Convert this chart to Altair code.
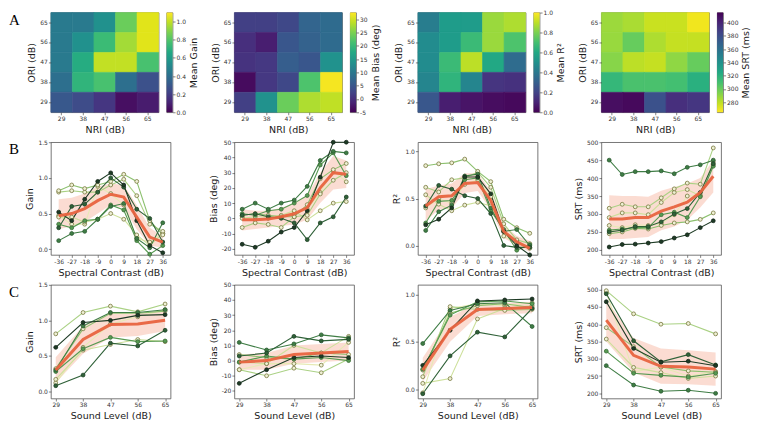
import altair as alt
import pandas as pd

FONT = "DejaVu Sans"
RED = "#e8633f"
BAND = "#f39a7e"

# ---------------- Row A : heatmaps ----------------
levels = [29, 38, 47, 56, 65]
ori_rows = [65, 56, 47, 38, 29]  # top to bottom

gain_grid = [[0.45, 0.45, 0.55, 0.85, 1.05],
             [0.45, 0.55, 0.75, 0.95, 1.05],
             [0.45, 0.68, 1.00, 1.00, 0.78],
             [0.40, 0.72, 0.78, 0.40, 0.27],
             [0.30, 0.25, 0.17, 0.04, 0.08]]
bias_grid = [[2, 2, 3, 7, 8],
             [0, -2, 5, 6.5, 8],
             [0.5, 1, 6, 5, 14],
             [-4, 1, 3, 22, 32],
             [2, 14, 24, 28, 29]]
r2_grid = [[0.42, 0.55, 0.55, 0.85, 0.88],
           [0.48, 0.55, 0.68, 0.85, 0.72],
           [0.48, 0.68, 0.90, 0.60, 0.35],
           [0.45, 0.65, 0.45, 0.15, 0.14],
           [0.27, 0.08, 0.05, 0.03, 0.02]]
srt_grid = [[287, 284, 277, 277, 268],
            [288, 300, 283, 278, 278],
            [292, 280, 278, 290, 300],
            [315, 308, 308, 310, 320],
            [410, 412, 378, 395, 392]]

gain_dom = [0.0, 1.1]
bias_dom = [-5, 32.5]
r2_dom = [0.0, 1.0]
srt_dom = [265, 415]
gain_cticks = [0.0, 0.2, 0.4, 0.6, 0.8, 1.0]
bias_cticks = [-5, 0, 5, 10, 15, 20, 25, 30]
r2_cticks = [0.0, 0.2, 0.4, 0.6, 0.8, 1.0]
srt_cticks = [280, 300, 320, 340, 360, 380, 400]

VIRIDIS = ["#440154", "#482475", "#414487", "#355f8d", "#2a788e", "#21918c",
           "#22a884", "#44bf70", "#7ad151", "#bddf26", "#fde725"]

# ---------------- Rows B / C : line plots ----------------
SUBJ = ["s1", "s2", "s3", "s4", "s5", "s6", "s7", "s8"]
LINE_COLS = ["#1e3b25", "#2f6138", "#3f7d45", "#579a52", "#8cc06e", "#aad184", "#cde09b", "#e6eab4"]
FILL_COLS = ["#1e3b25", "#2f6138", "#3f7d45", "#579a52", "#eef0d4", "#eef0d4", "#eef0d4", "#eef0d4"]
STROKE_COLS = ["#14261a", "#1e4126", "#2b5a31", "#3c6e3a", "#77773e", "#77773e", "#77773e", "#77773e"]

xb = [-36, -27, -18, -9, 0, 9, 18, 27, 36]
xc = [29, 38, 47, 56, 65]

b_gain = [[0.52, 0.40, 0.70, 0.95, 1.07, 0.90, 0.40, 0.05, -0.05],
          [0.30, 0.60, 0.63, 0.80, 1.00, 0.87, 0.56, 0.43, 0.10],
          [0.12, 0.22, 0.25, 0.42, 0.60, 0.64, 0.15, 0.02, 0.37],
          [0.35, 0.30, 0.40, 0.42, 0.62, 0.55, 0.12, -0.07, 0.05],
          [0.82, 0.90, 0.85, 0.90, 0.95, 1.05, 0.95, 0.40, 0.20],
          [0.80, 0.82, 0.80, 0.80, 0.90, 0.98, 0.75, 0.35, 0.25],
          [0.45, 0.45, 0.38, 0.42, 0.50, 0.42, 0.20, 0.05, 0.22],
          [0.47, 0.35, 0.35, 0.88, 0.78, 0.62, 0.15, 0.10, 0.22]]
b_gain_mean = [0.47, 0.50, 0.57, 0.68, 0.77, 0.73, 0.45, 0.17, 0.10]
b_gain_lo = [0.28, 0.32, 0.38, 0.50, 0.62, 0.58, 0.28, 0.05, 0.02]
b_gain_hi = [0.70, 0.72, 0.78, 0.88, 0.92, 0.90, 0.62, 0.30, 0.18]

b_bias = [[-17, -19, -15, -9, -6, 5, 27, 50, 50],
          [2, 3, 1, 0, -3, -14, -3, 1, 14],
          [6, 10, 6, 10, 12, 21, 38, 44, 43],
          [3, 2, 5, 6, 10, 15, 35, 43, 28],
          [2, 3, 2, 1, 1, 9, 26, 32, 36],
          [-6, -3, -4, -6, 1, 2, 16, 25, 30],
          [0, 1, 1, 2, 5, -1, 5, 10, 11],
          [1, -1, 0, 1, 3, 6, 17, 31, 24]]
b_bias_mean = [-1, -1, -0.5, 1, 3, 7, 20, 30, 29]
b_bias_lo = [-8, -7, -6, -5, -4, -1, 10, 19, 20]
b_bias_hi = [6, 5, 5, 7, 10, 15, 30, 41, 38]

b_r2 = [[0.22, 0.28, 0.40, 0.73, 0.73, 0.55, 0.15, 0.00, -0.10],
        [0.42, 0.64, 0.60, 0.53, 0.50, 0.34, 0.00, -0.02, -0.02],
        [0.16, 0.36, 0.43, 0.74, 0.76, 0.40, 0.15, 0.17, 0.00],
        [0.24, 0.47, 0.48, 0.70, 0.72, 0.37, 0.17, -0.05, 0.01],
        [0.85, 0.87, 0.88, 0.92, 0.79, 0.68, 0.28, 0.19, 0.13],
        [0.62, 0.57, 0.70, 0.72, 0.78, 0.62, 0.23, 0.06, 0.02],
        [0.54, 0.44, 0.37, 0.43, 0.46, 0.42, 0.15, 0.04, -0.03],
        [0.40, 0.50, 0.45, 0.65, 0.70, 0.52, 0.10, 0.03, -0.02]]
b_r2_mean = [0.42, 0.52, 0.53, 0.66, 0.67, 0.48, 0.15, 0.04, -0.03]
b_r2_lo = [0.26, 0.38, 0.40, 0.56, 0.58, 0.38, 0.08, 0.00, -0.07]
b_r2_hi = [0.60, 0.64, 0.66, 0.77, 0.77, 0.58, 0.22, 0.10, 0.05]

b_srt = [[208, 215, 216, 219, 223, 233, 242, 262, 281],
         [250, 255, 265, 265, 278, 300, 315, 360, 440],
         [450, 410, 418, 418, 420, 412, 430, 437, 450],
         [255, 258, 262, 262, 298, 305, 290, 348, 433],
         [245, 250, 260, 258, 268, 275, 278, 285, 303],
         [316, 327, 320, 320, 345, 370, 386, 383, 484],
         [290, 303, 303, 298, 332, 360, 368, 350, 445],
         [268, 262, 270, 268, 273, 298, 350, 352, 437]]
b_srt_mean = [286, 286, 290, 290, 308, 320, 333, 360, 405]
b_srt_lo = [230, 230, 233, 236, 255, 265, 283, 318, 360]
b_srt_hi = [352, 350, 350, 348, 365, 375, 385, 400, 450]

c_gain = [[0.62, 0.97, 1.00, 1.07, 1.08],
          [0.08, 0.23, 0.68, 0.64, 0.86],
          [0.30, 0.92, 1.11, 1.11, 1.15],
          [0.28, 0.60, 0.76, 0.70, 0.71],
          [0.32, 0.88, 1.10, 1.10, 1.13],
          [0.81, 1.11, 1.20, 1.12, 1.23],
          [0.17, 0.58, 0.66, 0.73, 0.70],
          [0.12, 0.62, 0.95, 1.05, 1.15]]
c_gain_mean = [0.30, 0.73, 0.94, 0.95, 1.00]
c_gain_lo = [0.12, 0.53, 0.76, 0.78, 0.85]
c_gain_hi = [0.48, 0.92, 1.10, 1.10, 1.14]

c_bias = [[-15, -6, 2, 3, 2],
          [3, 5, 16, 13, 14],
          [12, 7, 11, 17, 15],
          [-1, 3, 1, 2, 0],
          [4, 2, 1, 5, 4],
          [-6, -10, -5, -8, 1],
          [-1, -2, 10, 5, 16],
          [-6, -2, -2, -3, 12]]
c_bias_mean = [-1, 0, 4, 5, 6]
c_bias_lo = [-6, -6, -2, -1, 0]
c_bias_hi = [4, 5, 10, 11, 12]

c_r2 = [[0.25, 0.62, 0.93, 0.94, 0.95],
        [-0.05, 0.35, 0.60, 0.55, 0.85],
        [0.48, 0.83, 0.90, 0.91, 0.66],
        [0.21, 0.78, 0.92, 0.93, 0.90],
        [0.20, 0.80, 0.88, 0.90, 0.86],
        [0.13, 0.87, 0.84, 0.83, 0.84],
        [0.06, 0.11, 0.74, 0.85, 0.88],
        [-0.04, 0.85, 0.90, 0.88, 0.91]]
c_r2_mean = [0.20, 0.63, 0.84, 0.85, 0.86]
c_r2_lo = [0.08, 0.50, 0.77, 0.79, 0.80]
c_r2_hi = [0.33, 0.76, 0.91, 0.91, 0.92]

c_srt = [[465, 330, 290, 293, 280],
         [488, 352, 291, 312, 282],
         [280, 224, 206, 209, 200],
         [322, 258, 252, 247, 258],
         [390, 335, 276, 265, 261],
         [497, 430, 400, 402, 372],
         [357, 275, 260, 243, 250],
         [493, 262, 276, 250, 263]]
c_srt_mean = [412, 310, 278, 276, 270]
c_srt_lo = [350, 260, 228, 226, 222]
c_srt_hi = [470, 360, 330, 325, 318]

# ---------------- sizes ----------------
WA, HA = 108, 100
CBW = 6
SPW = 46
WB = 120
HB, HC = 113, 114
LETTER_X = -42


def letter_chart(letter):
    return alt.Chart(pd.DataFrame({"t": [letter]})).mark_text(
        font="Liberation Serif", fontSize=15, align="left", baseline="top", color="black"
    ).encode(text="t:N", x=alt.value(LETTER_X), y=alt.value(0))


def heat_panel(grid, dom, reverse, letter=None):
    recs = []
    for ori, vals in zip(ori_rows, grid):
        for nri, v in zip(levels, vals):
            recs.append({"NRI": nri, "ORI": ori, "v": v})
    cscale = alt.Scale(scheme="viridis", domain=dom, reverse=reverse, clamp=True)
    base = alt.Chart(pd.DataFrame(recs)).mark_rect(strokeWidth=0.6).encode(
        x=alt.X("NRI:O", sort=levels, title="NRI (dB)",
                scale=alt.Scale(paddingInner=0, paddingOuter=0),
                axis=alt.Axis(labelAngle=0)),
        y=alt.Y("ORI:O", sort=ori_rows, title="ORI (dB)",
                scale=alt.Scale(paddingInner=0, paddingOuter=0)),
        color=alt.Color("v:Q", scale=cscale, legend=None),
        stroke=alt.Stroke("v:Q", scale=cscale, legend=None),
    )
    if letter:
        return alt.layer(base, letter_chart(letter)).properties(width=WA, height=HA)
    return base.properties(width=WA, height=HA)


def colorbar(dom, ticks, fmt, title, reverse):
    cols = VIRIDIS[::-1] if reverse else VIRIDIS
    n = len(cols) - 1
    grad = alt.Gradient(gradient="linear",
                        stops=[alt.GradientStop(color=c, offset=i / n) for i, c in enumerate(cols)],
                        x1=0, x2=0, y1=1, y2=0)
    df = pd.DataFrame({"lo": [dom[0]], "hi": [dom[1]]})
    return alt.Chart(df).mark_rect(color=grad).encode(
        x=alt.value(0), x2=alt.value(CBW),
        y=alt.Y("lo:Q", scale=alt.Scale(domain=dom, nice=False, zero=False),
                axis=alt.Axis(orient="right", values=ticks, format=fmt, title=title,
                              labelExpr="replace(datum.label, '\u2212', '-')",
                              titleAngle=270, titleBaseline="top")),
        y2="hi:Q",
    ).properties(width=CBW, height=HA)


def spacer():
    return alt.Chart(pd.DataFrame({"a": [0]})).mark_point(opacity=0).encode(
        x=alt.value(0), y=alt.value(0)
    ).properties(width=SPW, height=HA, view=alt.ViewBackground(stroke="transparent"))


def line_panel(xs, xdom, xtitle, subj_data, mean, lo, hi, ydom, yticks, yfmt, ytitle,
               height, letter=None):
    recs = []
    for name, vals in reversed(list(zip(SUBJ, subj_data))):
        for x, v in zip(xs, vals):
            recs.append({"x": x, "y": v, "s": name})
    sdf = pd.DataFrame(recs)
    mdf = pd.DataFrame({"x": xs, "m": mean, "lo": lo, "hi": hi})
    xscale = alt.Scale(domain=xdom, nice=False, zero=False)
    xaxis = alt.Axis(values=xs, format="d", labelAngle=0, title=xtitle, labelOverlap=False,
                     labelExpr="replace(datum.label, '\u2212', '-')")
    yscale = alt.Scale(domain=ydom, nice=False, zero=False)
    yaxis = alt.Axis(values=yticks, format=yfmt, title=ytitle,
                     labelExpr="replace(datum.label, '\u2212', '-')")

    def X():
        return alt.X("x:Q", scale=xscale, axis=xaxis)

    def Y(f):
        return alt.Y(f, scale=yscale, axis=yaxis)

    band = alt.Chart(mdf).mark_area(color=BAND, opacity=0.35).encode(x=X(), y=Y("lo:Q"), y2="hi:Q")
    lines = alt.Chart(sdf).mark_line(strokeWidth=1.1).encode(
        x=X(), y=Y("y:Q"),
        color=alt.Color("s:N", scale=alt.Scale(domain=SUBJ, range=LINE_COLS), legend=None))
    pts = alt.Chart(sdf).mark_point(filled=True, size=15, strokeWidth=0.8, opacity=1).encode(
        x=X(), y=Y("y:Q"),
        fill=alt.Fill("s:N", scale=alt.Scale(domain=SUBJ, range=FILL_COLS), legend=None),
        stroke=alt.Stroke("s:N", scale=alt.Scale(domain=SUBJ, range=STROKE_COLS), legend=None))
    ml = alt.Chart(mdf).mark_line(color=RED, strokeWidth=3, opacity=0.95).encode(x=X(), y=Y("m:Q"))
    layers = [band, lines, pts, ml]
    if letter:
        layers.append(letter_chart(letter))
    return alt.layer(*layers).properties(width=WB, height=height)


rowA = alt.hconcat(
    heat_panel(gain_grid, gain_dom, False, "A"), colorbar(gain_dom, gain_cticks, ".1f", "Mean Gain", False), spacer(),
    heat_panel(bias_grid, bias_dom, False), colorbar(bias_dom, bias_cticks, "d", "Mean Bias (deg)", False), spacer(),
    heat_panel(r2_grid, r2_dom, False), colorbar(r2_dom, r2_cticks, ".1f", "Mean R²", False), spacer(),
    heat_panel(srt_grid, srt_dom, True), colorbar(srt_dom, srt_cticks, "d", "Mean SRT (ms)", True),
    spacing=8, bounds="flush",
).resolve_scale(color="independent", stroke="independent")

SC = "Spectral Contrast (dB)"
SL = "Sound Level (dB)"
xb_dom = [-41.4, 41.4]
xc_dom = [27.4, 66.8]

rowB = alt.hconcat(
    line_panel(xb, xb_dom, SC, b_gain, b_gain_mean, b_gain_lo, b_gain_hi, [-0.08, 1.5], [0.0, 0.5, 1.0, 1.5], ".1f", "Gain", HB, "B"),
    line_panel(xb, xb_dom, SC, b_bias, b_bias_mean, b_bias_lo, b_bias_hi, [-24, 50], [-20, -10, 0, 10, 20, 30, 40, 50], "d", "Bias (deg)", HB),
    line_panel(xb, xb_dom, SC, b_r2, b_r2_mean, b_r2_lo, b_r2_hi, [-0.1, 1.1], [0.0, 0.5, 1.0], ".1f", "R²", HB),
    line_panel(xb, xb_dom, SC, b_srt, b_srt_mean, b_srt_lo, b_srt_hi, [186, 500], [200, 250, 300, 350, 400, 450, 500], "d", "SRT (ms)", HB),
    spacing=64, bounds="flush",
)

rowC = alt.hconcat(
    line_panel(xc, xc_dom, SL, c_gain, c_gain_mean, c_gain_lo, c_gain_hi, [-0.1, 1.5], [0.0, 0.5, 1.0, 1.5], ".1f", "Gain", HC, "C"),
    line_panel(xc, xc_dom, SL, c_bias, c_bias_mean, c_bias_lo, c_bias_hi, [-25, 50], [-20, -10, 0, 10, 20, 30, 40, 50], "d", "Bias (deg)", HC),
    line_panel(xc, xc_dom, SL, c_r2, c_r2_mean, c_r2_lo, c_r2_hi, [-0.1, 1.1], [0.0, 0.5, 1.0], ".1f", "R²", HC),
    line_panel(xc, xc_dom, SL, c_srt, c_srt_mean, c_srt_lo, c_srt_hi, [185, 514], [200, 250, 300, 350, 400, 450, 500], "d", "SRT (ms)", HC),
    spacing=64, bounds="flush",
)

chart = alt.vconcat(rowA, rowB, rowC, spacing=3).resolve_scale(
    color="independent", stroke="independent"
).properties(
    padding={"left": 0, "top": 0, "right": 0, "bottom": 0}
).configure_axis(
    labelFont=FONT, titleFont=FONT, labelFontSize=6, titleFontSize=9.5,
    titleFontWeight="normal", labelColor="#333333", titleColor="#1a1a1a",
    tickColor="#333333", tickSize=2.5, tickWidth=0.6, labelPadding=1,
    titlePadding=3, grid=False, domain=False,
).configure_view(stroke="#555555", strokeWidth=0.8)

chart.save("out.html", embed_options={"renderer": "svg", "actions": False})
